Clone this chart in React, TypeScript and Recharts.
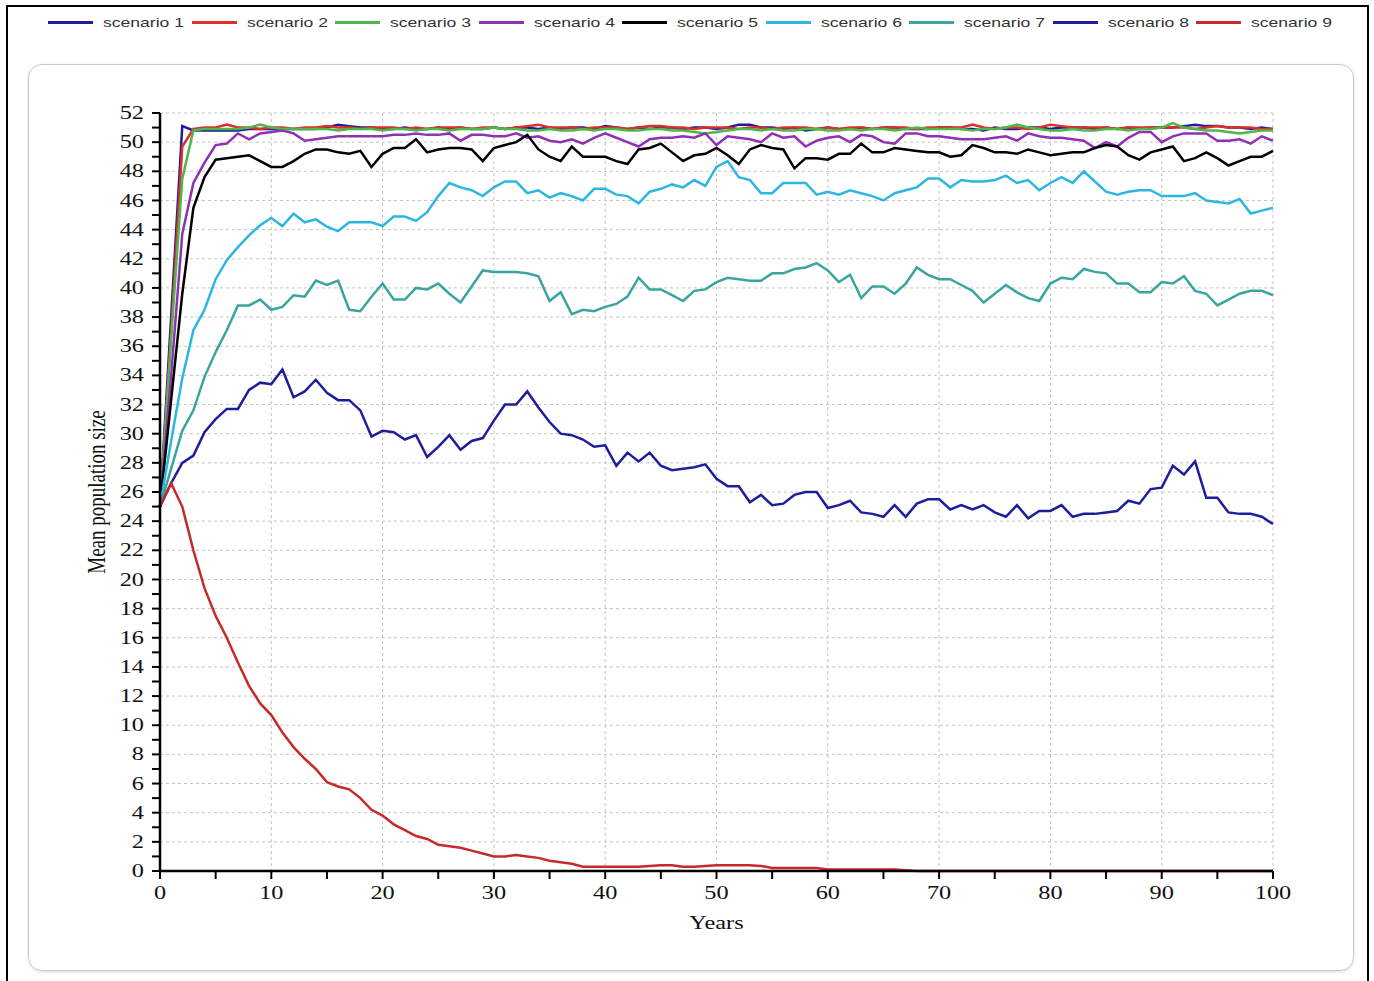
import { LineChart, Line, XAxis, YAxis, CartesianGrid, Legend, Label } from 'recharts'

const years = [
  0, 1, 2, 3, 4, 5, 6, 7, 8, 9, 10, 11, 12, 13, 14, 15, 16, 17, 18, 19, 20,
  21, 22, 23, 24, 25, 26, 27, 28, 29, 30, 31, 32, 33, 34, 35, 36, 37, 38, 39, 40,
  41, 42, 43, 44, 45, 46, 47, 48, 49, 50, 51, 52, 53, 54, 55, 56, 57, 58, 59, 60,
  61, 62, 63, 64, 65, 66, 67, 68, 69, 70, 71, 72, 73, 74, 75, 76, 77, 78, 79, 80,
  81, 82, 83, 84, 85, 86, 87, 88, 89, 90, 91, 92, 93, 94, 95, 96, 97, 98, 99, 100,
]

const scenario1 = [
  25, 38, 51.1, 50.8, 50.8, 50.8, 50.8, 50.8, 50.9, 50.9, 50.9, 50.9, 50.9, 50.9, 50.9, 51.0, 51.2, 51.1, 51.0, 51.0, 50.9,
  50.9, 51.0, 50.9, 50.9, 51.0, 50.9, 51.0, 50.9, 50.9, 51.0, 50.9, 51.0, 51.0, 50.9, 51.0, 50.9, 51.0, 51.0, 50.9, 51.1,
  51.0, 50.9, 51.0, 50.9, 51.0, 51.0, 50.9, 51.0, 51.0, 50.9, 51.0, 51.2, 51.2, 51.0, 51.0, 50.9, 51.0, 50.8, 50.9, 51.0,
  50.9, 50.9, 51.0, 50.9, 51.0, 51.0, 50.9, 50.9, 50.9, 51.0, 51.0, 50.9, 50.9, 50.8, 51.0, 50.9, 50.9, 51.0, 51.0, 50.9,
  51.0, 51.0, 51.0, 50.9, 51.0, 50.9, 51.0, 50.9, 51.0, 51.0, 51.0, 51.1, 51.2, 51.1, 51.1, 51.0, 51.0, 50.9, 51.0, 50.9,
]

const scenario2 = [
  25, 37, 49.7, 50.9, 51.0, 51.0, 51.2, 51.0, 51.0, 50.9, 51.0, 51.0, 50.9, 51.0, 51.0, 51.1, 51.0, 51.0, 50.9, 51.0, 51.0,
  51.0, 50.9, 51.0, 50.9, 51.0, 51.0, 51.0, 50.9, 51.0, 51.0, 50.9, 51.0, 51.1, 51.2, 51.0, 51.0, 51.0, 50.9, 51.0, 51.0,
  51.0, 50.9, 51.0, 51.1, 51.1, 51.0, 51.0, 50.9, 51.0, 51.0, 51.0, 50.9, 51.0, 51.0, 50.9, 51.0, 51.0, 51.0, 50.9, 51.0,
  50.9, 51.0, 51.0, 50.9, 51.0, 51.0, 51.0, 50.9, 51.0, 51.0, 51.0, 51.0, 51.2, 51.0, 50.9, 51.0, 51.0, 50.9, 51.0, 51.2,
  51.1, 51.0, 51.0, 51.0, 51.0, 50.9, 51.0, 51.0, 51.0, 51.0, 51.0, 51.0, 50.9, 51.0, 51.1, 51.0, 51.0, 51.0, 50.9, 50.9,
]

const scenario3 = [
  25, 36.5, 47.5, 50.8, 50.9, 50.9, 50.9, 50.9, 51.0, 51.2, 51.0, 50.9, 50.9, 50.9, 50.9, 50.9, 50.8, 50.9, 50.9, 50.9, 50.8,
  50.9, 50.9, 50.8, 50.9, 50.9, 50.8, 50.9, 50.9, 50.9, 51.0, 50.9, 50.9, 50.8, 50.8, 50.9, 50.8, 50.8, 50.9, 50.8, 50.9,
  50.9, 50.8, 50.8, 50.9, 50.9, 50.8, 50.8, 50.7, 50.6, 50.7, 50.8, 50.9, 50.9, 50.8, 50.9, 50.8, 50.8, 50.9, 50.9, 50.8,
  50.8, 50.9, 50.8, 50.9, 50.9, 50.8, 50.9, 51.0, 50.9, 50.9, 50.9, 50.9, 50.8, 50.9, 50.9, 51.0, 51.2, 51.0, 50.9, 50.8,
  50.8, 50.9, 50.8, 50.8, 50.9, 50.9, 50.8, 50.9, 50.9, 51.0, 51.3, 51.0, 50.9, 50.8, 50.8, 50.7, 50.6, 50.7, 50.8, 50.8,
]

const scenario4 = [
  25, 34.0, 43.7, 47.2, 48.6, 49.8, 49.9, 50.6, 50.2, 50.6, 50.7, 50.8, 50.6, 50.1, 50.2, 50.3, 50.4, 50.4, 50.4, 50.4, 50.4,
  50.5, 50.5, 50.6, 50.5, 50.5, 50.6, 50.1, 50.5, 50.5, 50.4, 50.4, 50.6, 50.3, 50.4, 50.1, 50.0, 50.2, 49.9, 50.3, 50.6,
  50.3, 50.0, 49.7, 50.2, 50.3, 50.3, 50.4, 50.3, 50.6, 49.8, 50.4, 50.3, 50.2, 50.0, 50.6, 50.3, 50.4, 49.7, 50.1, 50.3,
  50.4, 50.0, 50.5, 50.4, 50.0, 49.9, 50.6, 50.6, 50.4, 50.4, 50.3, 50.2, 50.2, 50.2, 50.3, 50.4, 50.1, 50.6, 50.4, 50.3,
  50.3, 50.2, 50.1, 49.6, 50.0, 49.7, 50.3, 50.7, 50.7, 50.0, 50.4, 50.6, 50.6, 50.6, 50.1, 50.1, 50.2, 49.9, 50.4, 50.1,
]

const scenario5 = [
  25, 32.3, 39.6, 45.5, 47.6, 48.8, 48.9, 49.0, 49.1, 48.7, 48.3, 48.3, 48.7, 49.2, 49.5, 49.5, 49.3, 49.2, 49.4, 48.3, 49.2,
  49.6, 49.6, 50.2, 49.3, 49.5, 49.6, 49.6, 49.5, 48.7, 49.6, 49.8, 50.0, 50.5, 49.5, 49.0, 48.7, 49.7, 49.0, 49.0, 49.0,
  48.7, 48.5, 49.5, 49.6, 49.9, 49.3, 48.7, 49.1, 49.2, 49.6, 49.1, 48.5, 49.5, 49.8, 49.6, 49.5, 48.2, 48.9, 48.9, 48.8,
  49.2, 49.2, 49.9, 49.3, 49.3, 49.6, 49.5, 49.4, 49.3, 49.3, 49.0, 49.1, 49.8, 49.6, 49.3, 49.3, 49.2, 49.5, 49.3, 49.1,
  49.2, 49.3, 49.3, 49.6, 49.8, 49.7, 49.1, 48.8, 49.3, 49.5, 49.7, 48.7, 48.9, 49.3, 48.9, 48.4, 48.7, 49.0, 49.0, 49.4,
]

const scenario6 = [
  25, 29.5, 33.8, 37.1, 38.5, 40.6, 41.9, 42.8, 43.6, 44.3, 44.8, 44.25, 45.1, 44.5, 44.7, 44.2, 43.9, 44.5, 44.5, 44.5, 44.25,
  44.9, 44.9, 44.6, 45.2, 46.3, 47.2, 46.9, 46.7, 46.3, 46.9, 47.3, 47.3, 46.5, 46.7, 46.2, 46.5, 46.3, 46.0, 46.8, 46.8,
  46.4, 46.3, 45.8, 46.6, 46.8, 47.1, 46.9, 47.4, 47.0, 48.3, 48.7, 47.6, 47.4, 46.5, 46.5, 47.2, 47.2, 47.2, 46.4, 46.6,
  46.4, 46.7, 46.5, 46.3, 46.0, 46.5, 46.7, 46.9, 47.5, 47.5, 46.9, 47.4, 47.3, 47.3, 47.4, 47.7, 47.2, 47.4, 46.7, 47.2,
  47.6, 47.2, 48.0, 47.3, 46.6, 46.4, 46.6, 46.7, 46.7, 46.3, 46.3, 46.3, 46.5, 46.0, 45.9, 45.8, 46.1, 45.1, 45.3, 45.5,
]

const scenario7 = [
  25, 27.6, 30.2, 31.6, 33.9, 35.6, 37.1, 38.8, 38.8, 39.2, 38.5, 38.7, 39.5, 39.4, 40.5, 40.2, 40.5, 38.5, 38.4, 39.4, 40.3,
  39.2, 39.2, 40.0, 39.9, 40.3, 39.6, 39.0, 40.1, 41.2, 41.1, 41.1, 41.1, 41.0, 40.8, 39.1, 39.7, 38.2, 38.5, 38.4, 38.7,
  38.9, 39.4, 40.7, 39.9, 39.9, 39.5, 39.1, 39.8, 39.9, 40.4, 40.7, 40.6, 40.5, 40.5, 41.0, 41.0, 41.3, 41.4, 41.7, 41.2,
  40.4, 40.9, 39.3, 40.1, 40.1, 39.6, 40.3, 41.4, 40.9, 40.6, 40.6, 40.2, 39.8, 39.0, 39.6, 40.2, 39.7, 39.3, 39.1, 40.3,
  40.7, 40.6, 41.3, 41.1, 41.0, 40.3, 40.3, 39.7, 39.7, 40.4, 40.3, 40.8, 39.8, 39.6, 38.8, 39.2, 39.6, 39.8, 39.8, 39.5,
]

const scenario8 = [
  25, 26.6, 28.0, 28.5, 30.1, 31.0, 31.7, 31.7, 33.0, 33.5, 33.4, 34.4, 32.5, 32.9, 33.7, 32.8, 32.3, 32.3, 31.6, 29.8, 30.2,
  30.1, 29.6, 29.9, 28.4, 29.1, 29.9, 28.9, 29.5, 29.7, 30.9, 32.0, 32.0, 32.9, 31.8, 30.8, 30.0, 29.9, 29.6, 29.1, 29.2,
  27.8, 28.7, 28.1, 28.7, 27.8, 27.5, 27.6, 27.7, 27.9, 26.9, 26.4, 26.4, 25.3, 25.8, 25.1, 25.2, 25.8, 26.0, 26.0, 24.9,
  25.1, 25.4, 24.6, 24.5, 24.3, 25.1, 24.3, 25.2, 25.5, 25.5, 24.8, 25.1, 24.8, 25.1, 24.6, 24.3, 25.1, 24.2, 24.7, 24.7,
  25.1, 24.3, 24.5, 24.5, 24.6, 24.7, 25.4, 25.2, 26.2, 26.3, 27.8, 27.2, 28.1, 25.6, 25.6, 24.6, 24.5, 24.5, 24.3, 23.8,
]

const scenario9 = [
  25, 26.6, 25.0, 22.0, 19.4, 17.5, 16.0, 14.3, 12.7, 11.5, 10.7, 9.5, 8.5, 7.7, 7.0, 6.1, 5.8, 5.6, 5.0, 4.2, 3.8,
  3.2, 2.8, 2.4, 2.2, 1.8, 1.7, 1.6, 1.4, 1.2, 1.0, 1.0, 1.1, 1.0, 0.9, 0.7, 0.6, 0.5, 0.3, 0.3, 0.3,
  0.3, 0.3, 0.3, 0.35, 0.4, 0.4, 0.3, 0.3, 0.35, 0.4, 0.4, 0.4, 0.4, 0.35, 0.2, 0.2, 0.2, 0.2, 0.2, 0.1,
  0.1, 0.1, 0.1, 0.1, 0.1, 0.1, 0.05, 0, 0, 0, 0, 0, 0, 0, 0, 0, 0, 0, 0, 0,
  0, 0, 0, 0, 0, 0, 0, 0, 0, 0, 0, 0, 0, 0, 0, 0, 0, 0, 0, 0,
]

const seriesNames = ['scenario 1', 'scenario 2', 'scenario 3', 'scenario 4', 'scenario 5', 'scenario 6', 'scenario 7', 'scenario 8', 'scenario 9']
const seriesColors = ['#1e1e9c', '#dc2f26', '#4db84a', '#9030b4', '#000000', '#2db6e2', '#3aa59e', '#1e1e9c', '#c62a2a']
const seriesValues = [scenario1, scenario2, scenario3, scenario4, scenario5, scenario6, scenario7, scenario8, scenario9]

const yTicks = [0, 1, 2, 3, 4, 5, 6, 7, 8, 9, 10, 11, 12, 13, 14, 15, 16, 17, 18, 19, 20, 21, 22, 23, 24, 25, 26,
  27, 28, 29, 30, 31, 32, 33, 34, 35, 36, 37, 38, 39, 40, 41, 42, 43, 44, 45, 46, 47, 48, 49, 50, 51, 52]
const yGrid = [0, 2, 4, 6, 8, 10, 12, 14, 16, 18, 20, 22, 24, 26, 28, 30, 32, 34, 36, 38, 40, 42, 44, 46, 48, 50, 52]
const xTicks = [0, 5, 10, 15, 20, 25, 30, 35, 40, 45, 50, 55, 60, 65, 70, 75, 80, 85, 90, 95, 100]
const xGrid = [0, 10, 20, 30, 40, 50, 60, 70, 80, 90, 100]

const data = years.map((year, i) => {
  const row: Record<string, number> = { year }
  seriesValues.forEach((vals, k) => {
    row[`s${k + 1}`] = vals[i]
  })
  return row
})

const SERIF = '"Liberation Serif", "Times New Roman", serif'
const STRETCH = 1.28

function YTick({ x, y, payload }: any) {
  if (payload.value % 2 !== 0) return null
  return (
    <text transform={`translate(${x},${y}) scale(${STRETCH},1)`} textAnchor="end" dominantBaseline="central"
      fontFamily={SERIF} fontSize={19} fill="#111">
      {payload.value}
    </text>
  )
}

function XTick({ x, y, payload }: any) {
  if (payload.value % 10 !== 0) return null
  return (
    <text transform={`translate(${x},${y}) scale(${STRETCH},1)`} textAnchor="middle" dy="0.75em"
      fontFamily={SERIF} fontSize={19} fill="#111">
      {payload.value}
    </text>
  )
}

function LegendContent({ payload }: any) {
  return (
    <div style={{ display: 'flex', height: 24, alignItems: 'center', paddingLeft: 48 }}>
      {(payload || []).map((p: any) => (
        <div key={p.value} style={{ display: 'flex', alignItems: 'center', width: 143.5, flexShrink: 0 }}>
          <span style={{ display: 'inline-block', width: 45, height: 3, background: p.color }} />
          <span style={{ display: 'inline-block', width: 88, marginLeft: 10, whiteSpace: 'nowrap' }}>
            <span style={{ display: 'inline-block', transform: `scaleX(1.3)`, transformOrigin: 'left center',
              fontFamily: '"Liberation Sans", Arial, sans-serif', fontSize: 13.5, color: '#333' }}>
              {p.value}
            </span>
          </span>
        </div>
      ))}
    </div>
  )
}

export default function App() {
  return (
    <div style={{ position: 'absolute', left: 0, top: 0, width: 1374, height: 981, overflow: 'hidden', background: '#fff' }}>
      <div style={{ position: 'absolute', left: 6, top: 5, width: 1359, height: 1000, border: '2px solid #000' }} />
      <div style={{ position: 'absolute', left: 28, top: 64, width: 1324, height: 905, border: '1.5px solid #c9c9c9',
        borderRadius: 14, boxShadow: '0 1px 3px rgba(0,0,0,0.15)' }} />
      <div style={{ position: 'absolute', left: 0, top: 0 }}>
        <LineChart width={1374} height={981} data={data} margin={{ top: 89, right: 101, bottom: 70, left: 90 }}>
          <CartesianGrid stroke="#c4c4c4" strokeDasharray="3 3" horizontalValues={yGrid} verticalValues={xGrid} />
          <XAxis dataKey="year" type="number" domain={[0, 100]} ticks={xTicks} interval={0} height={40}
            axisLine={{ stroke: '#000', strokeWidth: 2.5 }} tickLine={{ stroke: '#000', strokeWidth: 2 }}
            tickSize={8} tickMargin={6} tick={<XTick />}>
            <Label content={({ viewBox }: any) => (
              <text transform={`translate(${viewBox.x + viewBox.width / 2},${viewBox.y + 58}) scale(${STRETCH},1)`}
                textAnchor="middle" fontFamily={SERIF} fontSize={19} fill="#111">Years</text>
            )} />
          </XAxis>
          <YAxis type="number" domain={[0, 52]} ticks={yTicks} interval={0} width={70}
            axisLine={{ stroke: '#000', strokeWidth: 2.5 }} tickLine={{ stroke: '#000', strokeWidth: 2 }}
            tickSize={8} tickMargin={8} tick={<YTick />}>
            <Label content={({ viewBox }: any) => (
              <text transform={`translate(${viewBox.x + 7},${viewBox.y + viewBox.height / 2}) rotate(-90) scale(1,${STRETCH})`}
                textAnchor="middle" dominantBaseline="central" fontFamily={SERIF} fontSize={19} fill="#111">
                Mean population size
              </text>
            )} />
          </YAxis>
          <Legend verticalAlign="top" content={<LegendContent />} wrapperStyle={{ top: 10, left: 0, width: 1374 }} />
          {seriesNames.map((name, k) => (
            <Line key={name} type="linear" dataKey={`s${k + 1}`} name={name} stroke={seriesColors[k]}
              strokeWidth={2.5} dot={false} activeDot={false} isAnimationActive={false} />
          ))}
        </LineChart>
      </div>
    </div>
  )
}
